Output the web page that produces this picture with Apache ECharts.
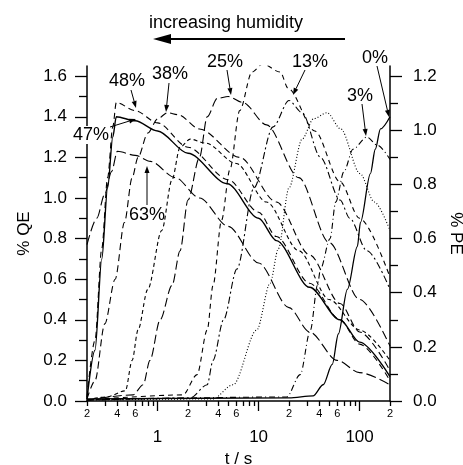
<!DOCTYPE html>
<html>
<head>
<meta charset="utf-8">
<title>QE / PE vs time</title>
<script src="https://cdn.jsdelivr.net/npm/echarts@6/dist/echarts.min.js"></script>
<style>
html,body{margin:0;padding:0;background:#fff;}
#main{width:463px;height:465px;}
</style>
</head>
<body>
<div id="main"></div>
<script>
// [t / s, % QE]
var rh63 = [[0.2,0.77],[0.25,0.9],[0.3,1.02],[0.35,1.13],[0.4,1.23],[0.6,1.21],[0.85,1.18],[1.5,1.1],[2.6,1.0],[5,0.86],[10,0.68],[20,0.46],[32,0.34],[60,0.2],[100,0.14],[200,0.08]];
var rh48 = [[0.2,0.02],[0.24,0.3],[0.28,0.75],[0.32,1.1],[0.36,1.35],[0.39,1.47],[0.6,1.43],[1,1.37],[2,1.25],[5,1.09],[10,0.93],[15,0.81],[32,0.58],[64,0.4],[100,0.28],[200,0.1]];
var rh47 = [[0.2,0.01],[0.24,0.25],[0.28,0.7],[0.32,1.05],[0.36,1.3],[0.39,1.4],[0.6,1.38],[1,1.33],[2,1.22],[4.9,1.07],[10,0.9],[15,0.79],[32,0.56],[64,0.4],[100,0.29],[200,0.12]];
var rh38 = [[0.2,0.01],[0.24,0.1],[0.3,0.38],[0.38,0.6],[0.47,0.88],[0.56,1.1],[0.64,1.2],[0.8,1.32],[1,1.39],[1.25,1.42],[1.6,1.41],[2.6,1.34],[6.5,1.2],[15,0.98],[32,0.72],[64,0.48],[100,0.34],[200,0.15]];
var rhX = [[0.2,0.005],[0.31,0.02],[0.48,0.05],[0.56,0.2],[0.64,0.35],[0.8,0.55],[1.1,0.84],[1.39,1.09],[1.67,1.25],[2.1,1.29],[3,1.27],[6,1.17],[12,0.98],[25,0.74],[50,0.5],[100,0.35],[200,0.2]];
var rh25 = [[0.2,0.005],[0.57,0.03],[0.72,0.08],[0.84,0.2],[1.06,0.4],[1.39,0.57],[1.67,0.74],[2,0.99],[2.6,1.2],[3.1,1.4],[3.9,1.49],[5,1.5],[7,1.47],[12,1.36],[25,1.1],[50,0.78],[100,0.5],[200,0.27]];
var rhB = [[0.2,0.005],[1.78,0.03],[2.46,0.13],[3.1,0.35],[3.54,0.57],[4.3,0.89],[5.2,1.14],[6.5,1.43],[8.6,1.62],[11,1.66],[16.4,1.62],[19.6,1.54],[36,1.33],[64,1.08],[100,0.9],[200,0.61]];
var rh13 = [[0.2,0.005],[2.1,0.015],[3.1,0.08],[3.54,0.2],[4.5,0.4],[6.1,0.65],[9,1.05],[13.9,1.35],[20,1.48],[27,1.42],[41,1.2],[64,0.99],[80,0.9],[118,0.74],[200,0.55]];
var rhDot = [[0.2,0.005],[3.5,0.01],[5.6,0.08],[9.6,0.35],[13,0.58],[15.7,0.75],[20,1.05],[27,1.29],[35,1.39],[47.6,1.42],[65,1.34],[101,1.12],[140,0.98],[200,0.84]];
var rh3 = [[0.2,0.005],[19,0.02],[25.8,0.13],[32.6,0.35],[38.3,0.57],[41,0.65],[51,0.8],[58,0.98],[70,1.13],[86,1.24],[118,1.3],[150,1.26],[200,1.19]];
var rh0 = [[0.2,0.01],[20,0.015],[34.6,0.025],[43.6,0.08],[53.6,0.18],[61.6,0.33],[75.7,0.55],[95,0.76],[102,0.88],[128,1.12],[143,1.24],[161,1.34],[200,1.4]];

var majorX = [1, 10, 100];
var minorX = [0.2,0.3,0.4,0.5,0.6,0.7,0.8,0.9,2,3,4,5,6,7,8,9,20,30,40,50,60,70,80,90,200];
var minorXLabels = [0.2,0.4,0.6,2,4,6,20,40,60,200];
var qeTicks = [0,0.2,0.4,0.6,0.8,1.0,1.2,1.4,1.6];
var qeMinor = [0.1,0.3,0.5,0.7,0.9,1.1,1.3,1.5];
var peTicks = [0,0.2,0.4,0.6,0.8,1.0,1.2];
var peMinor = [0.1,0.3,0.5,0.7,0.9,1.1];

var FONT = '"Liberation Sans", Arial, sans-serif';

function curve(data, dash, width) {
	return {
		type: 'line',
		data: data,
		xAxisIndex: 0,
		yAxisIndex: 0,
		symbol: 'none',
		smooth: 0.3,
		smoothMonotone: 'x',
		silent: true,
		lineStyle: {color: '#000', width: width || 1.1, type: dash}
	};
}

function firstDigit(v) {
	var p = Math.pow(10, Math.floor(Math.log10(v) + 1e-9));
	return String(Math.round(v / p));
}

function yAxisPair(pos, max, ticks, minor, name, rot, gap, margin) {
	var line = {show: true, onZero: false, lineStyle: {color: '#000', width: 1.5}};
	return [
		{
			type: 'value', min: 0, max: max, position: pos,
			axisLine: line,
			axisTick: {show: true, length: 12, customValues: ticks, lineStyle: {color: '#000', width: 1.3}},
			axisLabel: {customValues: ticks, margin: margin, fontSize: 17, color: '#000', fontFamily: FONT,
				formatter: function (v) { return v.toFixed(1); }},
			splitLine: {show: false},
			name: name, nameLocation: 'middle', nameGap: gap, nameRotate: rot,
			nameTextStyle: {fontSize: 17, color: '#000', fontFamily: FONT}
		},
		{
			type: 'value', min: 0, max: max, position: pos,
			axisLine: {show: false, onZero: false},
			axisTick: {show: true, length: 8, customValues: minor, lineStyle: {color: '#000', width: 1.3}},
			axisLabel: {show: false},
			splitLine: {show: false}
		}
	];
}

// little arrows for the annotations, in pixels
function arrow(x1, y1, x2, y2, head, half, lw) {
	var dx = x2 - x1, dy = y2 - y1, len = Math.sqrt(dx * dx + dy * dy);
	var ux = dx / len, uy = dy / len;
	var bx = x2 - ux * head, by = y2 - uy * head;
	return [
		{type: 'line', silent: true, shape: {x1: x1, y1: y1, x2: bx, y2: by}, style: {stroke: '#000', lineWidth: lw}},
		{type: 'polygon', silent: true, shape: {points: [[x2, y2], [bx - uy * half, by + ux * half], [bx + uy * half, by - ux * half]]}, style: {fill: '#000'}}
	];
}

function label(txt, x, y, bg) {
	var s = {text: txt, x: x, y: y, font: '18px ' + FONT, fill: '#000',
		align: 'center', verticalAlign: 'middle', textAlign: 'center', textVerticalAlign: 'middle'};
	if (bg) { s.backgroundColor = '#fff'; }
	return {type: 'text', silent: true, z: 100, style: s};
}

var graphics = [
	label('increasing humidity', 226, 23),
	label('48%', 127, 81),
	label('38%', 170, 74),
	label('25%', 225, 62),
	label('13%', 310, 62),
	label('0%', 375, 58),
	label('3%', 360, 96),
	label('47%', 91, 135, true),
	label('63%', 147, 215)
];
graphics = graphics.concat(
	arrow(345, 39, 153, 39, 18, 5, 2),
	arrow(131, 90, 136, 108, 7, 2.5, 1),
	arrow(169, 83, 166, 112, 7, 2.5, 1),
	arrow(227, 70, 231, 95, 7, 2.5, 1),
	arrow(305, 70, 293, 95, 7, 2.5, 1),
	arrow(377, 66, 389, 117, 7, 2.5, 1),
	arrow(362, 104, 366, 136, 7, 2.5, 1),
	arrow(110, 127, 136, 119, 7, 2.5, 1),
	arrow(147, 205, 147, 166, 7, 2.5, 1)
);

var option = {
	animation: false,
	backgroundColor: '#fff',
	grid: {left: 87, right: 73, top: 66, bottom: 64, outerBoundsMode: 'none'},
	xAxis: [
		{
			type: 'log', logBase: 10, min: 0.2, max: 200, position: 'bottom',
			axisLine: {show: true, onZero: false, lineStyle: {color: '#000', width: 1.5}},
			axisTick: {show: true, length: 10, customValues: majorX, lineStyle: {color: '#000', width: 1.3}},
			axisLabel: {customValues: majorX, margin: 28, fontSize: 17, color: '#000', fontFamily: FONT,
				formatter: function (v) { return String(Math.round(v)); }},
			splitLine: {show: false},
			name: 't / s', nameLocation: 'middle', nameGap: 48,
			nameTextStyle: {fontSize: 17, color: '#000', fontFamily: FONT}
		},
		{
			type: 'log', logBase: 10, min: 0.2, max: 200, position: 'bottom',
			axisLine: {show: false, onZero: false},
			axisTick: {show: true, length: 5, customValues: minorX, lineStyle: {color: '#000', width: 1.3}},
			axisLabel: {customValues: minorXLabels, margin: 7, fontSize: 11, color: '#000', fontFamily: FONT,
				formatter: firstDigit},
			splitLine: {show: false}
		}
	],
	yAxis: yAxisPair('left', 1.65, qeTicks, qeMinor, '% QE', 90, 52, 20)
		.concat(yAxisPair('right', 1.2375, peTicks, peMinor, '% PE', -90, 56, 23)),
	series: [
		curve(rh63, [10, 4]),
		curve(rh48, [6, 4]),
		curve(rh47, 'solid', 1.4),
		curve(rh38, [7, 4]),
		curve(rhX, [4, 3]),
		curve(rh25, [9, 4]),
		curve(rhB, [5, 4]),
		curve(rh13, [7, 3, 2, 3]),
		curve(rhDot, [1, 2]),
		curve(rh3, [6, 3, 1, 3]),
		curve(rh0, 'solid', 1.3)
	],
	graphic: graphics
};

var chart = echarts.init(document.getElementById('main'));
chart.setOption(option);
</script>
</body>
</html>
